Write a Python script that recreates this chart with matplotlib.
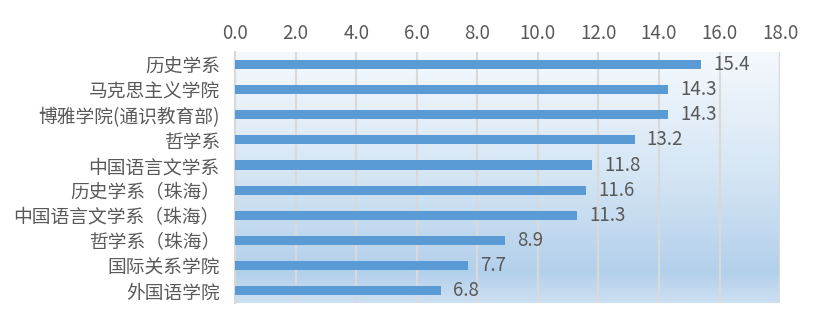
import matplotlib
matplotlib.use("Agg")
import matplotlib.pyplot as plt
from matplotlib.colors import LinearSegmentedColormap
import numpy as np

plt.rcParams["font.family"] = ["Noto Sans CJK SC", "DejaVu Sans"]

# departments, top to bottom
departments = [
    "历史学系",
    "马克思主义学院",
    "博雅学院(通识教育部)",
    "哲学系",
    "中国语言文学系",
    "历史学系（珠海）",
    "中国语言文学系（珠海）",
    "哲学系（珠海）",
    "国际关系学院",
    "外国语学院",
]
values = [15.4, 14.3, 14.3, 13.2, 11.8, 11.6, 11.3, 8.9, 7.7, 6.8]
x_ticks = [0, 2, 4, 6, 8, 10, 12, 14, 16, 18]

BAR = "#5b9bd5"
TXT = "#595959"
GRID = "#d9d9d9"
FS = 13.5

fig = plt.figure(figsize=(8.22, 3.27), dpi=100)
ax = fig.add_axes([0.286, 0.073, 0.663, 0.768])

n = len(departments)
ypos = np.arange(n)

# vertical gradient backdrop of the plot area
bg = LinearSegmentedColormap.from_list(
    "bg", [(0.0, "#f5f9fd"), (0.5, "#d4e5f4"), (0.88, "#b3d0eb"), (1.0, "#cde0f2")]
)
grad = np.linspace(0, 1, 256).reshape(-1, 1)
ax.imshow(grad, cmap=bg, aspect="auto", extent=(0, 18, n - 0.5, -0.5),
          zorder=0, interpolation="bicubic")

ax.barh(ypos, values, height=0.36, color=BAR, zorder=3)
for y, v in zip(ypos, values):
    ax.text(v + 0.4, y, f"{v:.1f}", va="center", ha="left",
            fontsize=FS, color=TXT, zorder=4)

ax.set_xlim(0, 18)
ax.set_ylim(n - 0.5, -0.5)
ax.set_xticks(x_ticks)
ax.set_xticklabels([f"{t:.1f}" for t in x_ticks])
ax.xaxis.tick_top()
ax.set_yticks(ypos)
ax.set_yticklabels(departments)
ax.tick_params(axis="x", length=0, pad=6, labelsize=FS, labelcolor=TXT)
ax.tick_params(axis="y", length=0, pad=11, labelsize=FS, labelcolor=TXT)

ax.grid(True, axis="x", color=GRID, lw=1.5, zorder=1)
for side in ["top", "right", "bottom"]:
    ax.spines[side].set_visible(False)
ax.spines["left"].set_color(GRID)
ax.spines["left"].set_linewidth(1.5)
ax.axvline(18, color=GRID, lw=1.5, zorder=1)

fig.savefig("out.png", dpi=100)
